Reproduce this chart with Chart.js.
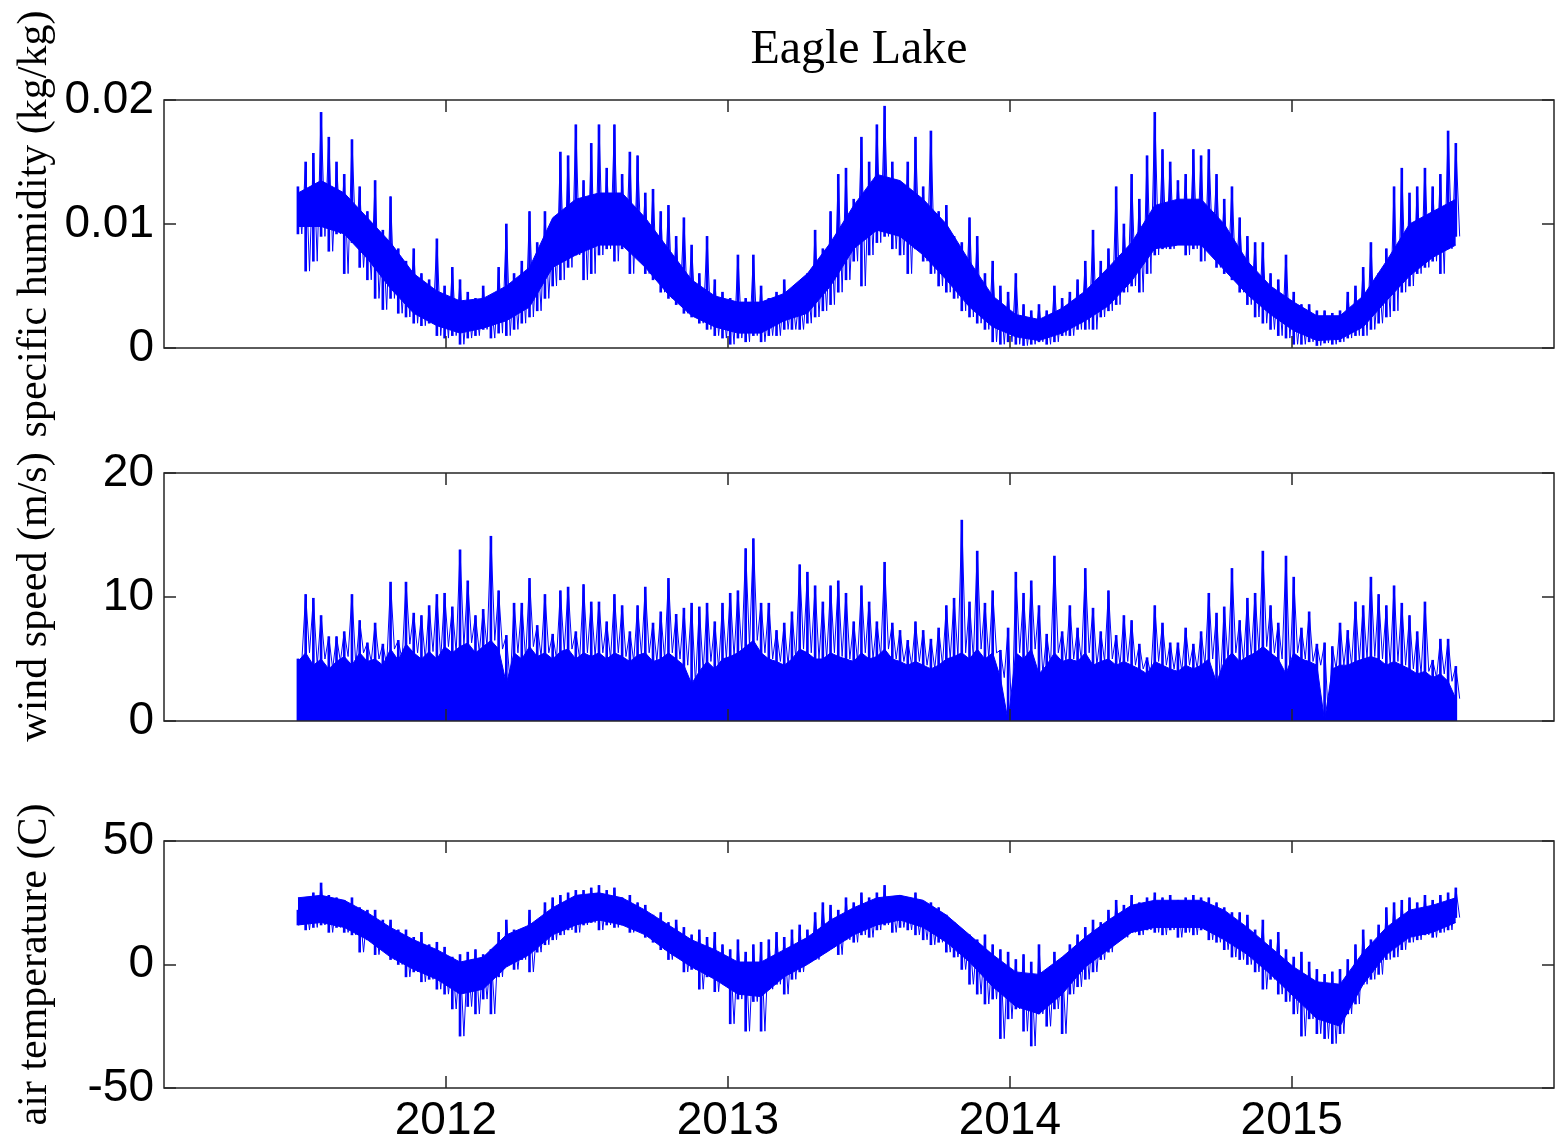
<!DOCTYPE html>
<html>
<head>
<meta charset="utf-8">
<title>Eagle Lake</title>
<script src="https://cdn.jsdelivr.net/npm/chart.js@4.4.0/dist/chart.umd.min.js"></script>
<style>
  html, body { margin: 0; padding: 0; background: #fff; }
  #wrap { position: relative; width: 1555px; height: 1145px; }
  canvas { position: absolute; left: 0; top: 0; }
</style>
</head>
<body>
<div id="wrap">
  <canvas id="humidChart" width="1555" height="1145"></canvas>
  <canvas id="windChart" width="1555" height="1145"></canvas>
  <canvas id="tempChart" width="1555" height="1145"></canvas>
</div>
<script>
// Series. Spikes are in 10-day bins starting mid-June 2011
// (highest and lowest value of each bin); the dense core of each trace is read
// every 30 days.
const startYear = 2011.475;
const binDays = 10;
const coreEvery = 3; // bins per core sample
const yearTicks = [2012, 2013, 2014, 2015];

// specific humidity, g/kg (plotted as kg/kg)
const humidHi = [
  13.0, 15.0, 15.7, 19.0, 17.0, 15.0, 14.0, 16.8, 13.0, 11.0,
  13.5, 9.5, 12.2, 8.0, 7.0, 8.0, 6.0, 5.5, 8.8, 5.0,
  6.5, 5.5, 4.5, 4.0, 5.0, 4.0, 6.5, 10.0, 6.0, 7.0,
  11.0, 8.5, 11.0, 10.0, 15.8, 15.5, 18.0, 13.5, 16.5, 18.0,
  14.5, 18.0, 14.0, 15.8, 15.5, 12.5, 12.8, 11.0, 11.5, 9.0,
  10.5, 8.3, 6.0, 9.0, 5.5, 4.5, 4.0, 7.5, 4.0, 7.5,
  5.0, 4.0, 4.5, 5.5, 4.5, 4.5, 6.0, 9.5, 8.0, 11.0,
  14.0, 14.5, 12.0, 17.0, 15.0, 18.0, 19.5, 15.0, 13.0, 15.0,
  17.0, 13.0, 17.5, 11.0, 11.5, 9.0, 8.5, 10.5, 9.0, 6.0,
  7.0, 5.0, 4.5, 6.0, 3.5, 3.0, 3.5, 3.0, 5.0, 4.0,
  4.5, 5.5, 7.0, 9.5, 7.0, 8.0, 13.0, 10.0, 14.0, 12.0,
  15.5, 19.0, 16.0, 15.0, 13.5, 14.0, 16.0, 15.5, 16.0, 14.0,
  12.0, 13.0, 10.5, 9.0, 8.5, 8.5, 6.0, 5.5, 7.5, 4.5,
  3.5, 3.5, 3.0, 3.0, 2.8, 3.0, 4.5, 5.0, 6.5, 8.5,
  6.0, 8.0, 13.0, 14.5, 12.5, 13.0, 14.5, 13.0, 14.0, 17.5, 16.5
];
const humidLo = [
  9.2, 6.2, 7.0, 9.0, 7.8, 9.2, 6.0, 8.5, 6.5, 5.5,
  4.0, 3.1, 4.0, 2.8, 2.5, 2.0, 1.8, 2.0, 1.0, 0.8,
  1.0, 0.3, 0.8, 1.0, 1.5, 0.8, 1.2, 1.0, 1.5, 2.0,
  2.5, 3.0, 4.0, 5.0, 5.5, 6.5, 7.5, 5.5, 6.0, 7.5,
  8.0, 7.0, 8.0, 6.0, 7.5, 6.0, 5.5, 4.5, 4.0, 3.5,
  2.8, 2.5, 2.0, 1.5, 1.0, 0.8, 0.3, 0.8, 0.5, 1.0,
  0.5, 1.0, 1.0, 1.5, 1.5, 1.5, 2.0, 2.5, 3.0, 3.5,
  4.5, 5.5, 7.0, 5.0, 7.5, 8.5, 9.0, 8.0, 7.5, 6.0,
  8.0, 7.0, 6.0, 5.0, 4.5, 4.0, 3.0, 2.5, 2.0, 1.5,
  0.5, 0.3, 0.5, 0.3, 0.2, 0.3, 0.5, 0.3, 0.5, 1.0,
  1.0, 1.5, 1.5, 1.5, 2.5, 3.0, 3.5, 4.5, 5.0, 4.5,
  6.0, 7.5, 8.0, 8.0, 8.5, 7.5, 8.0, 7.0, 8.0, 6.5,
  6.0, 5.5, 4.5, 3.5, 2.5, 2.0, 1.5, 1.0, 0.8, 0.3,
  0.3, 0.5, 0.2, 0.4, 0.3, 0.5, 0.8, 1.0, 1.0, 1.5,
  2.0, 2.5, 3.0, 4.5, 5.0, 6.0, 6.5, 7.0, 6.0, 8.0, 9.0
];
const humidCoreTop = [
  12.5, 13.5, 12.5, 10.5, 8.5, 6.0, 4.6, 3.8, 4.0, 5.0,
  6.5, 10.5, 12.0, 12.5, 12.5, 10.5, 8.0, 5.5, 4.2, 3.7,
  3.7, 4.4, 6.0, 8.5, 11.5, 14.0, 13.5, 12.0, 10.0, 7.0,
  4.2, 2.7, 2.3, 3.2, 4.6, 6.5, 8.5, 11.5, 12.0, 12.0,
  10.0, 7.0, 5.0, 3.7, 2.6, 2.6, 4.2, 7.0, 10.0, 11.0, 12.0
];
const humidCoreBot = [
  9.8, 9.8, 9.2, 7.2, 4.8, 2.8, 1.8, 1.2, 1.6, 2.2,
  3.3, 6.5, 7.5, 8.3, 8.3, 6.5, 4.3, 2.6, 1.7, 1.2,
  1.2, 2.2, 2.8, 5.0, 8.0, 9.5, 9.0, 7.5, 5.5, 3.3,
  1.7, 0.9, 0.6, 1.2, 2.2, 3.4, 5.4, 8.0, 8.3, 8.3,
  6.3, 4.3, 2.7, 1.4, 0.6, 0.7, 1.7, 3.8, 5.8, 7.3, 8.3
];

// wind speed, m/s: gust peaks and the top of the dense part
const windHi = [
  5.0, 10.2, 9.9, 8.5, 6.8, 6.8, 7.2, 10.2, 8.1, 6.3,
  7.9, 6.2, 11.2, 6.5, 11.2, 8.7, 8.5, 9.3, 10.2, 10.3,
  9.2, 13.8, 11.3, 8.5, 9.0, 14.9, 10.5, 6.9, 9.5, 9.5,
  11.5, 7.7, 10.2, 7.0, 10.5, 10.8, 7.2, 11.0, 9.6, 9.6,
  8.0, 10.2, 9.3, 7.2, 9.3, 10.8, 7.9, 8.8, 11.5, 8.6,
  9.1, 9.5, 9.2, 9.5, 8.0, 9.5, 10.3, 10.5, 13.9, 14.7,
  9.5, 9.5, 7.3, 7.9, 8.8, 12.6, 12.0, 10.9, 9.6, 10.9,
  11.3, 10.3, 8.0, 10.9, 9.6, 8.0, 12.8, 7.9, 7.3, 6.5,
  8.0, 7.3, 6.6, 7.5, 9.3, 9.9, 16.2, 9.6, 13.7, 9.5,
  10.5, 5.7, 7.5, 12.0, 10.3, 11.3, 9.3, 7.0, 13.3, 7.2,
  9.3, 7.5, 12.3, 9.1, 7.2, 10.5, 6.9, 8.5, 8.1, 6.2,
  5.1, 9.3, 7.9, 6.3, 6.3, 7.5, 6.2, 7.2, 10.3, 8.7,
  9.2, 12.3, 8.1, 9.9, 10.3, 13.7, 9.3, 7.9, 13.3, 11.6,
  7.5, 8.8, 6.2, 6.3, 6.0, 7.9, 7.3, 9.6, 9.3, 11.6,
  10.2, 9.3, 10.9, 9.5, 8.5, 7.2, 9.6, 4.9, 6.6, 6.6, 4.4
];
const windLo = [
  4.8, 5.5, 4.5, 5.0, 4.2, 4.8, 5.2, 4.5, 5.5, 4.8,
  5.0, 4.5, 5.8, 4.9, 6.2, 5.5, 5.0, 5.6, 5.0, 6.0,
  5.5, 6.0, 6.3, 5.5, 6.0, 6.5, 5.8, 3.0, 5.5, 5.0,
  6.0, 5.2, 5.5, 5.0, 5.6, 5.8, 5.0, 5.5, 5.2, 5.5,
  5.0, 5.5, 5.2, 4.8, 5.3, 5.5, 4.8, 5.0, 5.5, 5.0,
  4.5, 3.0, 4.0, 4.8, 4.2, 5.0, 5.2, 5.5, 6.0, 6.5,
  5.5, 5.0, 4.8, 4.5, 5.0, 5.8, 5.5, 5.0, 5.0, 5.5,
  5.2, 5.0, 4.8, 5.5, 5.0, 5.2, 5.8, 5.0, 4.8, 4.5,
  4.8, 4.5, 4.2, 4.5, 5.0, 5.2, 5.5, 5.0, 5.8, 5.0,
  5.5, 3.5, 0.0, 5.5, 5.0, 5.8, 3.8, 4.5, 5.5, 4.8,
  5.0, 4.8, 5.5, 4.5, 4.8, 5.0, 4.5, 4.8, 4.5, 4.2,
  3.8, 4.8, 4.5, 4.2, 4.0, 4.5, 4.2, 4.5, 5.0, 3.1,
  4.8, 5.5, 4.8, 5.2, 5.5, 6.0, 5.5, 5.0, 3.8, 5.5,
  5.0, 4.8, 4.5, 0.0, 4.2, 4.5, 4.5, 4.8, 5.0, 5.2,
  5.0, 4.5, 4.8, 4.5, 4.2, 3.8, 4.0, 3.5, 3.8, 3.2, 1.8
];

// air temperature, C
const tempHi = [
  22, 27, 29, 33, 28, 27, 26, 27, 23, 22,
  22, 18, 18, 14, 14, 11, 13, 8, 9, 7,
  3, 4, 5, 6, 4, 6, 13, 18, 14, 14,
  22, 17, 25, 27, 28, 29, 30, 30, 31, 32,
  30, 31, 27, 28, 25, 24, 20, 21, 17, 18,
  15, 12, 14, 11, 13, 8, 6, 10, 5, 8,
  9, 10, 13, 11, 14, 16, 14, 21, 25, 24,
  22, 27, 25, 29, 27, 29, 32, 27, 28, 26,
  29, 24, 25, 23, 20, 17, 14, 12, 10, 12,
  8, 6, 5, 2, 4, 1, 8, -2, 5, 2,
  8, 12, 15, 18, 17, 22, 26, 24, 28, 25,
  27, 29, 27, 28, 26, 27, 28, 27, 27, 25,
  23, 21, 21, 20, 14, 18, 10, 13, 6, 3,
  5, 1, -2, -4, -3, -2, 2, 8, 14, 10,
  16, 23, 25, 26, 27, 25, 28, 26, 28, 29, 31
];
const tempLo = [
  16, 14, 15, 16, 13, 15, 13, 12, 5, 10,
  4, 7, 2, 0, -5, -3, -7, -6, -10, -12,
  -18, -29, -17, -20, -14, -20, -5, 0, -2, 2,
  -3, 5, 8, 10, 12, 14, 13, 16, 17, 14,
  16, 15, 16, 13, 14, 11, 9, 6, 2, 4,
  -3, -2, -10, -5, -11, -7, -24, -14, -27, -15,
  -27, -10, -8, -12, -6, -3, 1, 2, 5, 7,
  4, 10, 9, 12, 11, 14, 16, 13, 15, 14,
  12, 10, 8, 9, 5, 3, -2, -8, -12, -16,
  -14, -30, -22, -18, -27, -33, -20, -25, -18, -28,
  -12, -9, -6, -3, 2, 5, 10, 11, 13, 12,
  14, 13, 12, 14, 11, 13, 12, 14, 10, 9,
  6, 3, 2, 0, -3, -10, -6, -12, -15, -20,
  -29, -22, -28, -30, -32, -28, -20, -16, -8, -6,
  -4, 2, 3, 6, 9, 10, 12, 11, 13, 14, 19
];
const tempCoreTop = [
  27, 28, 26, 21, 15, 10, 6, 1, 3, 12,
  16, 23, 28, 29, 27, 22, 16, 10, 6, 1,
  1, 6, 11, 18, 23, 27, 28, 26, 20, 12,
  4, -3, -4, 3, 11, 18, 24, 26, 26, 26,
  22, 15, 7, -1, -7, -8, 5, 15, 22, 24, 27
];
const tempCoreBot = [
  16, 17, 15, 10, 3, -2, -6, -12, -10, -1,
  4, 12, 16, 18, 16, 12, 5, -1, -6, -12,
  -13, -5, 0, 6, 12, 16, 18, 15, 9, 1,
  -9, -17, -20, -12, -1, 6, 13, 15, 15, 15,
  10, 4, -4, -13, -22, -25, -8, 4, 11, 13, 17
];

const humidTicks = [0, 0.01, 0.02];
const windTicks = [0, 10, 20];
const tempTicks = [-50, 0, 50];

const H = 1145;
const blue = '#0000ff';
const axisColor = '#262626';
const yearStep = binDays / 365.25;

// bars from low to high value of each bin
function spikes(hi, lo, factor) {
  return hi.map((h, i) => ({ x: startYear + i * yearStep, y: [lo[i] * factor, h * factor] }));
}

// zig-zag: high at the start of a bin, low half a bin later
function zigzag(hi, lo, factor) {
  const pts = [];
  hi.forEach((h, i) => {
    const t = startYear + i * yearStep;
    pts.push({ x: t, y: h * factor });
    pts.push({ x: t + yearStep / 2, y: lo[i] * factor });
  });
  return pts;
}

// a line through values sampled every n bins
function series(vals, n, factor) {
  return vals.map((v, k) => ({ x: startYear + k * n * yearStep, y: v * factor }));
}

function band(data, fill) {
  return {
    type: 'line',
    data: data,
    borderColor: blue,
    backgroundColor: blue,
    borderWidth: 1,
    pointRadius: 0,
    tension: 0,
    fill: fill
  };
}

function trace(data) {
  return {
    type: 'line',
    data: data,
    borderColor: blue,
    borderWidth: 1,
    pointRadius: 0,
    tension: 0,
    fill: false
  };
}

function spikeSet(data) {
  return {
    type: 'bar',
    data: data,
    backgroundColor: blue,
    borderWidth: 0,
    barThickness: 2,
    grouped: false
  };
}

// matlab style box with inward ticks on all four sides
const boxPlugin = {
  id: 'matlabBox',
  afterDraw(chart) {
    const { ctx, chartArea: a } = chart;
    const xs = chart.scales.x, ys = chart.scales.y;
    const len = 12;
    ctx.save();
    ctx.strokeStyle = axisColor;
    ctx.lineWidth = 1.5;
    ctx.strokeRect(a.left, a.top, a.right - a.left, a.bottom - a.top);
    ctx.beginPath();
    xs.ticks.forEach(t => {
      const px = Math.round(xs.getPixelForValue(t.value));
      ctx.moveTo(px, a.bottom); ctx.lineTo(px, a.bottom - len);
      ctx.moveTo(px, a.top); ctx.lineTo(px, a.top + len);
    });
    ys.ticks.forEach(t => {
      const py = Math.round(ys.getPixelForValue(t.value));
      ctx.moveTo(a.left, py); ctx.lineTo(a.left + len, py);
      ctx.moveTo(a.right, py); ctx.lineTo(a.right - len, py);
    });
    ctx.stroke();
    ctx.restore();
  }
};

function makePanel(id, opts) {
  return new Chart(document.getElementById(id), {
    type: 'line',
    data: { datasets: opts.datasets },
    options: {
      responsive: false,
      animation: false,
      events: [],
      layout: { padding: { top: opts.top, bottom: opts.bottom, left: 0, right: 1 } },
      plugins: {
        legend: { display: false },
        tooltip: { enabled: false },
        title: opts.title ? {
          display: true,
          fullSize: false,
          text: opts.title,
          color: '#000',
          font: { family: 'Liberation Serif', size: 48, weight: 'normal' },
          padding: { top: 21.2, bottom: 21.2 }
        } : { display: false }
      },
      scales: {
        x: {
          type: 'linear',
          min: 2011.0,
          max: 2015.93,
          offset: false,
          grid: { display: false, drawTicks: false, offset: false },
          border: { display: false },
          afterBuildTicks: s => { s.ticks = yearTicks.map(v => ({ value: v })); },
          afterFit: s => { s.height = opts.xHeight; },
          ticks: {
            display: opts.showYears,
            color: '#000',
            padding: 6,
            maxRotation: 0,
            font: { family: 'Liberation Sans', size: 46 },
            callback: v => String(v)
          }
        },
        y: {
          min: opts.ticks[0],
          max: opts.ticks[opts.ticks.length - 1],
          grid: { display: false, drawTicks: false },
          border: { display: false },
          afterBuildTicks: s => { s.ticks = opts.ticks.map(v => ({ value: v })); },
          afterFit: s => { s.width = 164; },
          ticks: {
            color: '#000',
            padding: 10,
            font: { family: 'Liberation Sans', size: 46 },
            callback: v => String(v)
          },
          title: {
            display: true,
            text: opts.label,
            color: '#000',
            font: { family: 'Liberation Serif', size: 42 },
            padding: { top: 10, bottom: 0 }
          }
        }
      }
    },
    plugins: [boxPlugin]
  });
}

makePanel('humidChart', {
  datasets: [
    band(series(humidCoreTop, coreEvery, 0.001), '+1'),
    band(series(humidCoreBot, coreEvery, 0.001), false),
    spikeSet(spikes(humidHi, humidLo, 0.001)),
    trace(zigzag(humidHi, humidLo, 0.001))
  ],
  ticks: humidTicks,
  label: 'specific humidity (kg/kg)',
  title: 'Eagle Lake',
  top: 0, bottom: H - 348, xHeight: 0, showYears: false
});

makePanel('windChart', {
  datasets: [
    band(series(windLo, 1, 1), 'origin'),
    spikeSet(spikes(windHi, windHi.map(() => 0), 1)),
    trace(zigzag(windHi, windLo, 1))
  ],
  ticks: windTicks,
  label: 'wind speed (m/s)',
  top: 473, bottom: H - 721, xHeight: 0, showYears: false
});

makePanel('tempChart', {
  datasets: [
    band(series(tempCoreTop, coreEvery, 1), '+1'),
    band(series(tempCoreBot, coreEvery, 1), false),
    spikeSet(spikes(tempHi, tempLo, 1)),
    trace(zigzag(tempHi, tempLo, 1))
  ],
  ticks: tempTicks,
  label: 'air temperature (C)',
  top: 841, bottom: 0, xHeight: H - 1088, showYears: true
});
</script>
</body>
</html>
